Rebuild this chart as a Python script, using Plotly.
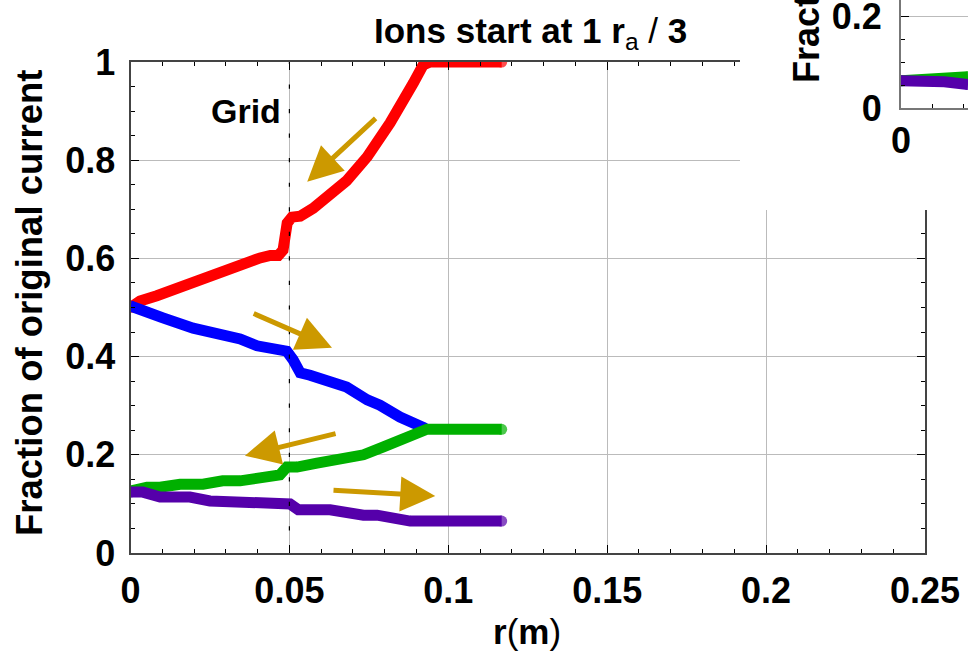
import plotly.graph_objects as go

# ---------------- data ----------------
r_red = [0, 0.003, 0.0083, 0.0146, 0.0219, 0.029, 0.0355, 0.0408, 0.044, 0.0465,
         0.048, 0.0483, 0.0493, 0.0508, 0.0534, 0.0575, 0.0628, 0.068, 0.0745,
         0.0817, 0.089, 0.0921, 0.0943, 0.1168]
red = [0.5, 0.513, 0.524, 0.54, 0.558, 0.575, 0.59, 0.601, 0.606, 0.606,
       0.617, 0.644, 0.672, 0.684, 0.686, 0.702, 0.727, 0.758, 0.807,
       0.876, 0.957, 0.994, 1.0, 1.0]

r_blue = [0, 0.0052, 0.0102, 0.0197, 0.024, 0.029, 0.0345, 0.0398, 0.046, 0.0492,
          0.0512, 0.0534, 0.0565, 0.0628, 0.068, 0.0745, 0.0785, 0.0848, 0.0911, 0.0927]
blue = [0.503, 0.489, 0.479, 0.458, 0.452, 0.44, 0.436, 0.422, 0.413, 0.411,
        0.393, 0.367, 0.362, 0.346, 0.338, 0.312, 0.301, 0.277, 0.259, 0.254]

r_green = [0, 0.0052, 0.0093, 0.0156, 0.0228, 0.029, 0.0345, 0.0398, 0.044, 0.047,
           0.0492, 0.0524, 0.0587, 0.066, 0.0733, 0.0796, 0.087, 0.0911, 0.0933, 0.1168]
green = [0.126, 0.134, 0.134, 0.140, 0.140, 0.147, 0.147, 0.154, 0.155, 0.159,
         0.175, 0.175, 0.183, 0.193, 0.2, 0.216, 0.234, 0.249, 0.252, 0.252]

r_purple = [0, 0.0039, 0.0093, 0.0187, 0.025, 0.0345, 0.043, 0.046, 0.0502, 0.0528,
            0.0628, 0.0733, 0.0776, 0.088, 0.1168]
purple = [0.124, 0.124, 0.114, 0.114, 0.106, 0.104, 0.104, 0.1, 0.1, 0.088,
          0.088, 0.077, 0.077, 0.065, 0.065]

# inset (partly visible) curves
r_inset_green = [0, 0.008, 0.012, 0.0216]
inset_green = [0.059, 0.061, 0.066, 0.068]
r_inset_purple = [0, 0.008, 0.014, 0.0216]
inset_purple = [0.059, 0.059, 0.057, 0.051]

x_tickvals = [0, 0.05, 0.1, 0.15, 0.2, 0.25]
x_ticktext = ["0", "0.05", "0.1", "0.15", "0.2", "0.25"]
y_tickvals = [0, 0.2, 0.4, 0.6, 0.8, 1]
y_ticktext = ["0", "0.2", "0.4", "0.6", "0.8", "1"]

grid_r = 0.05
grid_marks_y = [0.05, 0.1, 0.15, 0.2, 0.25, 0.3, 0.35, 0.4, 0.45, 0.5,
                0.55, 0.6, 0.65, 0.7, 0.75, 0.8, 0.85, 0.9, 0.95, 1.0]

# arrows: (tail_x, tail_y, tip_x, tip_y) in data units
arrows = [
    (0.0776, 0.888, 0.0556, 0.756),
    (0.0383, 0.489, 0.0634, 0.418),
    (0.0650, 0.244, 0.0360, 0.198),
    (0.0634, 0.128, 0.0959, 0.116),
]

FONT = "Liberation Sans, Arial, sans-serif"
GOLD = "#CC9900"
W, H = 968, 651

fig = go.Figure()


def add_curve(xs, ys, color, xa="x", ya="y", width=11):
    n = len(xs)
    sizes = [width] + [0] * (n - 2) + [width]
    fig.add_trace(go.Scatter(
        x=xs, y=ys, mode="lines+markers", xaxis=xa, yaxis=ya,
        line=dict(color=color, width=width),
        marker=dict(color=color, size=sizes, line=dict(width=0)),
        hoverinfo="skip", showlegend=False))


# main plot traces (xy)
add_curve(r_red, red, "#FF0000")
add_curve(r_blue, blue, "#0000FF")
add_curve(r_green, green, "#00B000")
add_curve(r_purple, purple, "#5500AA")

fig.add_trace(go.Scatter(
    x=[grid_r] * len(grid_marks_y), y=grid_marks_y, mode="markers",
    marker=dict(symbol="line-ns", size=3, line=dict(color="black", width=1.2)),
    hoverinfo="skip", showlegend=False))

# cover subplot (x2y2) : blank white area where the inset overlaps
fig.add_trace(go.Scatter(x=[0], y=[0], mode="markers", xaxis="x2", yaxis="y2",
                         marker=dict(size=0, opacity=0), hoverinfo="skip",
                         showlegend=False))

# inset subplot (x3y3)
add_curve(r_inset_green, inset_green, "#00B000", "x3", "y3")
add_curve(r_inset_purple, inset_purple, "#5500AA", "x3", "y3")

# ---------------- layout ----------------
x0, x1 = 130.5 / W, 925 / W
y0, y1 = (H - 553) / H, (H - 62) / H

tickfont = dict(family=FONT, size=36, color="black", weight="bold")

axis_common = dict(
    showline=True, linecolor="#444444", linewidth=2, mirror="ticks",
    ticks="inside", tickcolor="black", tickwidth=1.2, ticklen=8,
    showgrid=True, gridcolor="#BBBBBB", gridwidth=1, zeroline=False,
    tickfont=tickfont,
)

fig.update_layout(
    width=W, height=H,
    margin=dict(l=0, r=0, t=0, b=0, autoexpand=False),
    paper_bgcolor="white", plot_bgcolor="white",
    showlegend=False,
    xaxis=dict(domain=[x0, x1], range=[0, 0.25], tickvals=x_tickvals,
               ticktext=x_ticktext, ticklabelstandoff=5,
               minor=dict(dtick=0.01, ticks="inside", ticklen=4,
                          tickcolor="black", showgrid=False),
               anchor="y", **axis_common),
    yaxis=dict(domain=[y0, y1], range=[0, 1], tickvals=y_tickvals,
               ticktext=y_ticktext, ticklabelstandoff=6,
               minor=dict(dtick=0.05, ticks="inside", ticklen=4,
                          tickcolor="black", showgrid=False),
               anchor="x", **axis_common),
    xaxis2=dict(domain=[740 / W, 1], range=[0, 1], visible=False,
                anchor="y2", fixedrange=True),
    yaxis2=dict(domain=[(H - 210) / H, 1], range=[0, 1], visible=False,
                anchor="x2", fixedrange=True),
    xaxis3=dict(domain=[901 / W, 1], range=[0, 0.0216], tickvals=[0],
                ticktext=["0"], anchor="y3", showline=True,
                linecolor="#777777", linewidth=2, ticks="inside",
                tickcolor="black", ticklen=8, showgrid=False,
                zeroline=False, tickfont=tickfont, ticklabelstandoff=0,
                ticklabeloverflow="allow",
                minor=dict(dtick=0.01, ticks="inside", ticklen=4,
                           tickcolor="black", showgrid=False)),
    yaxis3=dict(domain=[(H - 108) / H, 1], range=[0, 0.2348],
                tickvals=[0, 0.2], ticktext=["0", "0.2"], anchor="x3",
                showline=True, linecolor="#777777", linewidth=2,
                ticks="inside", tickcolor="black", ticklen=8,
                showgrid=True, gridcolor="#BBBBBB", gridwidth=1,
                zeroline=False, tickfont=tickfont, ticklabelstandoff=10,
                ticklabeloverflow="allow",
                minor=dict(dtick=0.05, ticks="inside", ticklen=4,
                           tickcolor="black", showgrid=False)),
)

annotations = []
for tx, ty, hx, hy in arrows:
    annotations.append(dict(
        x=hx, y=hy, ax=tx, ay=ty, xref="x", yref="y", axref="x", ayref="y",
        text="", showarrow=True, arrowhead=2, arrowsize=1.4, arrowwidth=5,
        arrowcolor=GOLD, standoff=0))

annotations += [
    dict(text="<b>Ions start at 1 r</b><sub>a</sub> / <b>3</b>",
         x=530 / W, y=(H - 33) / H, xref="paper", yref="paper",
         showarrow=False, xanchor="center", yanchor="middle",
         font=dict(family=FONT, size=35, color="black")),
    dict(text="<b>Grid</b>", x=0.0364, y=0.9, xref="x", yref="y",
         showarrow=False, xanchor="center", yanchor="middle",
         font=dict(family=FONT, size=34, color="black")),
    dict(text="<b>Fraction of original current</b>", x=29 / W, y=(H - 303) / H,
         xref="paper", yref="paper", textangle=-90, showarrow=False,
         xanchor="center", yanchor="middle",
         font=dict(family=FONT, size=36.5, color="black")),
    dict(text="<b>r</b>(<b>m</b>)", x=527 / W, y=(H - 631) / H,
         xref="paper", yref="paper", showarrow=False,
         xanchor="center", yanchor="middle",
         font=dict(family=FONT, size=35, color="black")),
    dict(text="<b>Fraction of original current</b>", x=806 / W, y=(H - 85) / H,
         xref="paper", yref="paper", textangle=-90, showarrow=False,
         xanchor="center", yanchor="bottom",
         font=dict(family=FONT, size=36, color="black")),
]
fig.update_layout(annotations=annotations)

fig.write_html("out.html",
               config={"displayModeBar": False},
               post_script="document.body.style.margin='0px';")
